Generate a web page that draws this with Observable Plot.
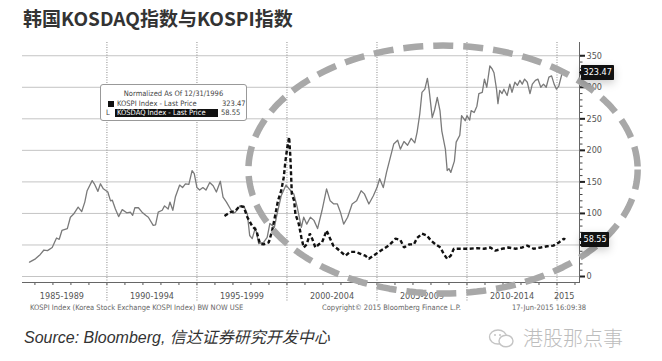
<!DOCTYPE html>
<html>
<head>
<meta charset="utf-8">
<script src="https://cdn.jsdelivr.net/npm/d3@7"></script>
<script src="https://cdn.jsdelivr.net/npm/@observablehq/plot@0.6"></script>
<style>
  html, body { margin: 0; padding: 0; background: #fff; }
  body { width: 662px; height: 361px; position: relative; overflow: hidden; font-family: "Liberation Sans", Arial, sans-serif; }
  .abs { position: absolute; white-space: nowrap; }
  #title { left: 23px; top: 0; height: 36px; line-height: 36px; font-family: "Noto Sans CJK SC", sans-serif; font-weight: bold; font-size: 19px; color: #333; }
  #chart { position: absolute; left: 0; top: 36px; }
  .foot { top: 302px; height: 12px; line-height: 12px; font-family: "Liberation Sans Narrow", "DejaVu Sans Condensed", sans-serif; font-size: 7.5px; color: #666; }
  #source { left: 24px; top: 326px; height: 24px; line-height: 24px; font-style: italic; font-size: 16px; color: #333; font-family: "Liberation Sans", Arial, "Noto Sans CJK SC", sans-serif; }
  #wm { left: 523px; top: 325px; height: 26px; line-height: 26px; font-size: 20px; color: #bdbdbd; font-family: "Noto Sans CJK SC", sans-serif; font-weight: 300; }
  #wmicon { left: 488px; top: 328px; }
  #legend { left: 100px; top: 84px; width: 147px; height: 37px; border: 1px solid #999; border-radius: 3px; background: #fff; box-sizing: border-box;
            font-family: "Liberation Sans Narrow", "DejaVu Sans Condensed", sans-serif; font-size: 7.5px; color: #444; }
  #legend div { position: absolute; white-space: nowrap; line-height: 8px; }
  g[aria-label="tip"] text, g[aria-label="tip"] tspan { fill: #fff; }
</style>
</head>
<body>
<div id="title" class="abs">韩国KOSDAQ指数与KOSPI指数</div>
<div id="chart"></div>
<div id="legend" class="abs">
  <div style="left:0;width:145px;text-align:center;top:5px;">Normalized As Of 12/31/1996</div>
  <div style="left:7px;top:16px;width:6px;height:6px;background:#111;"></div>
  <div style="left:16px;top:15px;">KOSPI Index - Last Price</div>
  <div style="left:121px;top:15px;">323.47</div>
  <div style="left:5px;top:24px;">L</div>
  <div style="left:14px;top:23.5px;width:103px;height:8px;background:#111;color:#fff;padding-left:2px;box-sizing:border-box;">KOSDAQ Index - Last Price</div>
  <div style="left:120px;top:24px;">58.55</div>
</div>
<div class="abs foot" style="left:30px;">KOSPI Index (Korea Stock Exchange KOSPI Index) BW NOW USE</div>
<div class="abs foot" style="left:322px;">Copyright© 2015 Bloomberg Finance L.P.</div>
<div class="abs foot" style="left:512px;">17-Jun-2015 16:09:38</div>
<div id="source" class="abs">Source: Bloomberg, 信达证券研究开发中心</div>
<svg id="wmicon" class="abs" width="28" height="22" viewBox="0 0 28 22">
  <ellipse cx="10" cy="9" rx="8.5" ry="7" fill="none" stroke="#c4c4c4" stroke-width="1.4"/>
  <ellipse cx="18" cy="13" rx="7" ry="5.8" fill="#fff" stroke="#c4c4c4" stroke-width="1.4"/>
  <circle cx="7" cy="7" r="1" fill="#c4c4c4"/><circle cx="12" cy="7" r="1" fill="#c4c4c4"/>
</svg>
<div id="wm" class="abs">港股那点事</div>
<script>
// ---- Data ----
const kospiYears = [1985.70,1986.03,1986.30,1986.50,1986.70,1986.96,1987.20,1987.35,1987.50,1987.80,1987.97,1988.15,1988.40,1988.60,1988.77,1988.90,1989.18,1989.30,1989.50,1989.64,1989.80,1990.05,1990.20,1990.30,1990.47,1990.65,1990.85,1991.10,1991.30,1991.43,1991.55,1991.75,1991.95,1992.15,1992.30,1992.57,1992.70,1992.85,1993.07,1993.20,1993.40,1993.50,1993.66,1993.80,1994.04,1994.20,1994.36,1994.55,1994.73,1994.85,1995.00,1995.15,1995.33,1995.50,1995.71,1995.90,1996.08,1996.30,1996.45,1996.64,1996.86,1997.00,1997.14,1997.38,1997.60,1997.80,1997.93,1998.07,1998.25,1998.43,1998.70,1998.90,1999.05,1999.30,1999.45,1999.68,1999.95,2000.15,2000.38,2000.57,2000.80,2000.93,2001.10,2001.30,2001.50,2001.70,2001.95,2002.20,2002.40,2002.60,2002.80,2002.97,2003.15,2003.37,2003.62,2003.87,2004.12,2004.30,2004.55,2004.80,2005.00,2005.15,2005.35,2005.53,2005.70,2005.93,2006.15,2006.30,2006.50,2006.70,2006.90,2007.10,2007.23,2007.38,2007.50,2007.66,2007.80,2007.90,2008.07,2008.20,2008.35,2008.50,2008.60,2008.80,2008.90,2009.00,2009.10,2009.30,2009.40,2009.60,2009.70,2009.90,2010.00,2010.15,2010.23,2010.40,2010.55,2010.66,2010.85,2010.97,2011.10,2011.27,2011.40,2011.50,2011.64,2011.72,2011.82,2011.95,2012.05,2012.23,2012.38,2012.50,2012.66,2012.80,2012.94,2013.07,2013.20,2013.35,2013.50,2013.63,2013.80,2013.94,2014.10,2014.25,2014.40,2014.55,2014.70,2014.84,2014.97,2015.10,2015.30,2015.46];
const kospiValues = [22.7,28,35,42,41,46,61,59,73,76,94,99,110,103,118,136,152,147,135,147,139,134,120,121,107,95,106,101,102,97,109,109,102,97,94,81,82,102,105,112,107,118,105,126,145,141,147,146,168,163,141,137,141,137,149,144,134,151,126,118,107,100,102,112,112,99,65,60,78,52,54,62,84,78,99,128,145,138,131,110,78,94,83,94,89,76,105,139,120,115,115,102,83,94,115,120,136,131,115,128,141,155,141,165,184,210,216,202,214,208,219,212,229,258,292,297,314,295,252,264,284,263,231,202,168,171,165,183,213,224,255,247,255,248,263,260,270,290,292,313,300,334,329,323,297,274,295,290,297,287,305,292,308,303,311,305,313,308,290,305,311,313,300,305,300,316,318,305,297,302,324,323.47];

const kosdaqYears = [1996.53,1996.86,1997.14,1997.38,1997.60,1997.80,1998.07,1998.30,1998.50,1998.70,1998.99,1999.18,1999.36,1999.50,1999.68,1999.82,1999.92,2000.02,2000.12,2000.18,2000.22,2000.27,2000.40,2000.47,2000.66,2000.80,2000.93,2001.10,2001.27,2001.40,2001.58,2001.77,2001.95,2002.20,2002.40,2002.57,2002.80,2003.00,2003.25,2003.50,2003.80,2004.08,2004.35,2004.55,2004.80,2005.10,2005.38,2005.65,2005.93,2006.03,2006.30,2006.50,2006.80,2007.05,2007.23,2007.50,2007.77,2008.00,2008.25,2008.53,2008.70,2008.90,2009.10,2009.27,2009.55,2009.83,2010.10,2010.57,2010.95,2011.30,2011.58,2011.95,2012.30,2012.70,2013.07,2013.35,2013.70,2014.10,2014.45,2014.80,2015.10,2015.38,2015.46];
const kosdaqValues = [96,102,104,112,110,94,80,73,52,51,54,73,99,120,136,157,184,205,221,194,168,131,120,99,83,62,46,51,68,60,46,51,54,73,60,49,44,39,33,39,39,36,33,28,33,39,44,49,57,60,58,46,51,51,61,68,65,57,51,46,36,28,33,44,44,44,44,45,44,46,41,44,46,44,46,49,44,46,48,49,54,60,58.55];

const periodLabels = ["1985-1989","1990-1994","1995-1999","2000-2004","2005-2009","2010-2014","2015"];
const periodCenters = [1987.5,1992.5,1997.5,2002.5,2007.5,2012.5,2015.4];
const periodBounds = [1990,1995,2000,2005,2010,2015];
const yearTicks = d3.range(1986, 2017);
const yMajorTicks = [0,50,100,150,200,250,300,350];
const yLabelTicks = [0,100,150,200,250,300,350]; // 50 is covered by the last-value box
const yMinorTicks = d3.range(0, 351, 10);
const lastLabels = [{name:"KOSPI", value:323.47, text:"323.47"},{name:"KOSDAQ", value:58.55, text:"58.55"}];
// highlight ellipse annotation (data units: center year/value, radii)
const ellipseSpec = {cx: 2008.67, cy: 169.6, rx: 10.81, ry: 196.5};

// ---- Tables ----
const kospi = kospiYears.map((t,i) => ({t, v: kospiValues[i]}));
const kosdaq = kosdaqYears.map((t,i) => ({t, v: kosdaqValues[i]}));
const ellipsePts = d3.range(0, 361, 2).map(a => {
  const r = a * Math.PI / 180;
  return {t: ellipseSpec.cx + ellipseSpec.rx * Math.cos(r), v: ellipseSpec.cy - ellipseSpec.ry * Math.sin(r)};
});
const xMax = 2016.25;

const fontAxis = "'Liberation Sans Narrow','DejaVu Sans Condensed',sans-serif";

const chart = Plot.plot({
  width: 662,
  height: 266,
  marginTop: 6,
  marginBottom: 20,
  marginLeft: 22,
  marginRight: 83,
  x: {domain: [1985.31, xMax], axis: null, label: null},
  y: {domain: [-9.5, 371], axis: null, label: null},
  style: {fontFamily: fontAxis, fontSize: "9px", color: "#555", background: "transparent", overflow: "visible"},
  marks: [
    Plot.gridY(yMajorTicks, {stroke: "#c4c4c4", strokeOpacity: 1, strokeWidth: 1}),
    Plot.gridX(periodBounds, {stroke: "#8a8a8a", strokeOpacity: 1, strokeWidth: 1, strokeDasharray: "1,1.5"}),
    Plot.axisX(periodBounds, {anchor: "bottom", tickSize: 20, fill: "none", label: null, stroke: "#8a8a8a", strokeDasharray: "1,1.5"}),
    Plot.axisX(yearTicks, {anchor: "bottom", tickSize: 3, fill: "none", label: null, stroke: "#555"}),
    Plot.axisX(periodCenters, {anchor: "bottom", tickSize: 0, tickPadding: 10, label: null, tickFormat: (d, i) => periodLabels[i], fill: "#555", fontSize: 9}),
    Plot.frame({anchor: "bottom", stroke: "#666"}),
    Plot.frame({anchor: "right", stroke: "#666"}),
    Plot.axisY(yMinorTicks, {anchor: "right", tickSize: 2.5, fill: "none", label: null, stroke: "#444"}),
    Plot.axisY(yMajorTicks, {anchor: "right", tickSize: 5, strokeWidth: 2, fill: "none", label: null, stroke: "#222"}),
    Plot.axisY(yLabelTicks, {anchor: "right", tickSize: 5, stroke: "none", tickPadding: 2, label: null, fill: "#555", fontSize: 9}),
    Plot.line(kospi, {x: "t", y: "v", stroke: "#7a7a7a", strokeWidth: 1.3}),
    Plot.line(kosdaq, {x: "t", y: "v", stroke: "#111", strokeWidth: 2.4, strokeDasharray: "4,2.5", strokeLinecap: "butt", strokeLinejoin: "miter"}),
    Plot.line(ellipsePts, {x: "t", y: "v", stroke: "#a8a8a8", strokeWidth: 6.5, strokeDasharray: "20,10", strokeLinecap: "butt"}),
    Plot.tip(lastLabels, {x: () => xMax, y: "value", title: "text", anchor: "left", fill: "#111", stroke: "#111", pointerSize: 4, textPadding: 2, fontSize: 9})
  ]
});
document.getElementById("chart").appendChild(chart);
</script>
</body>
</html>
